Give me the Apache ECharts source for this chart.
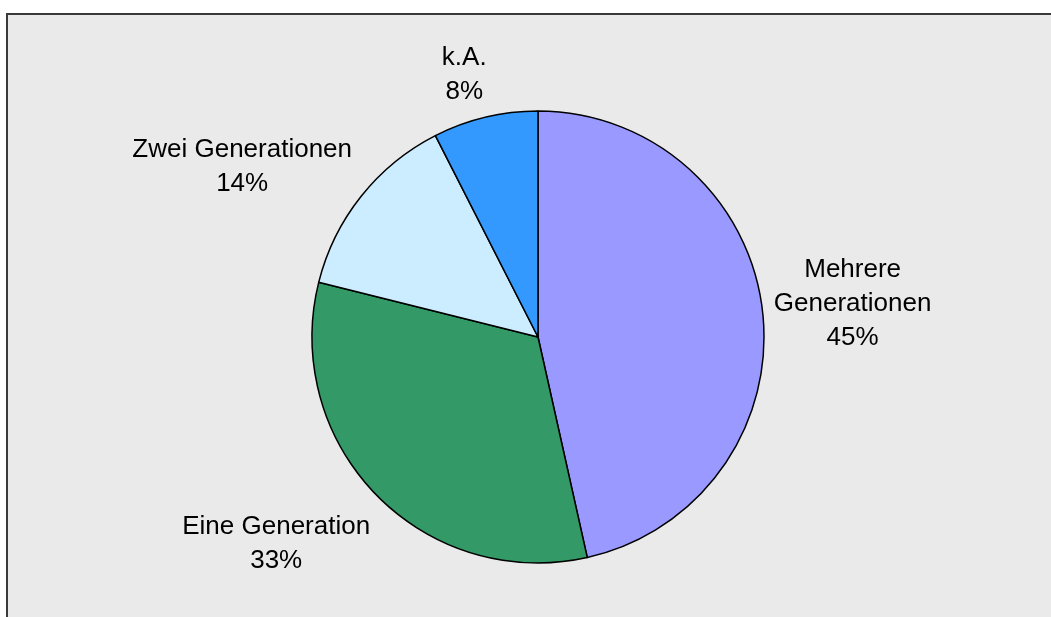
<!DOCTYPE html>
<html>
<head>
<meta charset="utf-8">
<script src="https://cdn.jsdelivr.net/npm/echarts@6/dist/echarts.min.js"></script>
<style>
html, body { margin: 0; padding: 0; background: #fff; overflow: hidden; }
#frame {
  position: absolute; left: 6px; top: 13px; width: 1045px; height: 604px;
  border-left: 2px solid #3a3a3a; border-top: 2px solid #3a3a3a; background: #eaeaea;
}
#chart { width: 100%; height: 100%; }
</style>
</head>
<body>
<div id="frame"><div id="chart"></div></div>
<script>
// Anteile, im Uhrzeigersinn ab 12 Uhr
const categories = ['Mehrere Generationen', 'Eine Generation', 'Zwei Generationen', 'k.A.'];
const labelNames = ['Mehrere\nGenerationen', 'Eine Generation', 'Zwei Generationen', 'k.A.'];
const shares = [46.5, 32.4, 13.6, 7.5];
const shareLabels = ['45%', '33%', '14%', '8%'];
const colors = ['#9999ff', '#339966', '#ccecff', '#3399ff'];

const cx = 530, cy = 322, R = 226;
// Verschiebung der Beschriftung vom Randpunkt der Segmentmitte
const labelShift = [[90, -8], [-100, 49], [-119, -29], [-21, -42]];

const total = shares.reduce((a, b) => a + b, 0);
let acc = 0;
const midAngles = shares.map(v => {
  const m = (acc + v / 2) / total * 2 * Math.PI;
  acc += v;
  return m;
});

const chart = echarts.init(document.getElementById('chart'));

const option = {
  animation: false,
  backgroundColor: '#eaeaea',
  series: [
    {
      type: 'pie',
      center: [cx, cy],
      radius: R,
      startAngle: 90,
      clockwise: true,
      silent: true,
      data: categories.map((name, i) => ({
        name: name,
        value: shares[i],
        itemStyle: { color: colors[i] }
      })),
      itemStyle: { borderColor: '#000', borderWidth: 1.5 },
      label: {
        show: true,
        position: 'outside',
        formatter: p => labelNames[p.dataIndex] + '\n' + shareLabels[p.dataIndex],
        fontFamily: 'Liberation Sans, Arial, sans-serif',
        fontSize: 26,
        lineHeight: 34,
        color: '#000'
      },
      labelLine: { show: false },
      labelLayout: params => {
        const i = params.dataIndex;
        const m = midAngles[i];
        return {
          x: cx + R * Math.sin(m) + labelShift[i][0],
          y: cy - R * Math.cos(m) + labelShift[i][1],
          align: 'center',
          verticalAlign: 'middle'
        };
      }
    }
  ]
};

chart.setOption(option);
</script>
</body>
</html>
